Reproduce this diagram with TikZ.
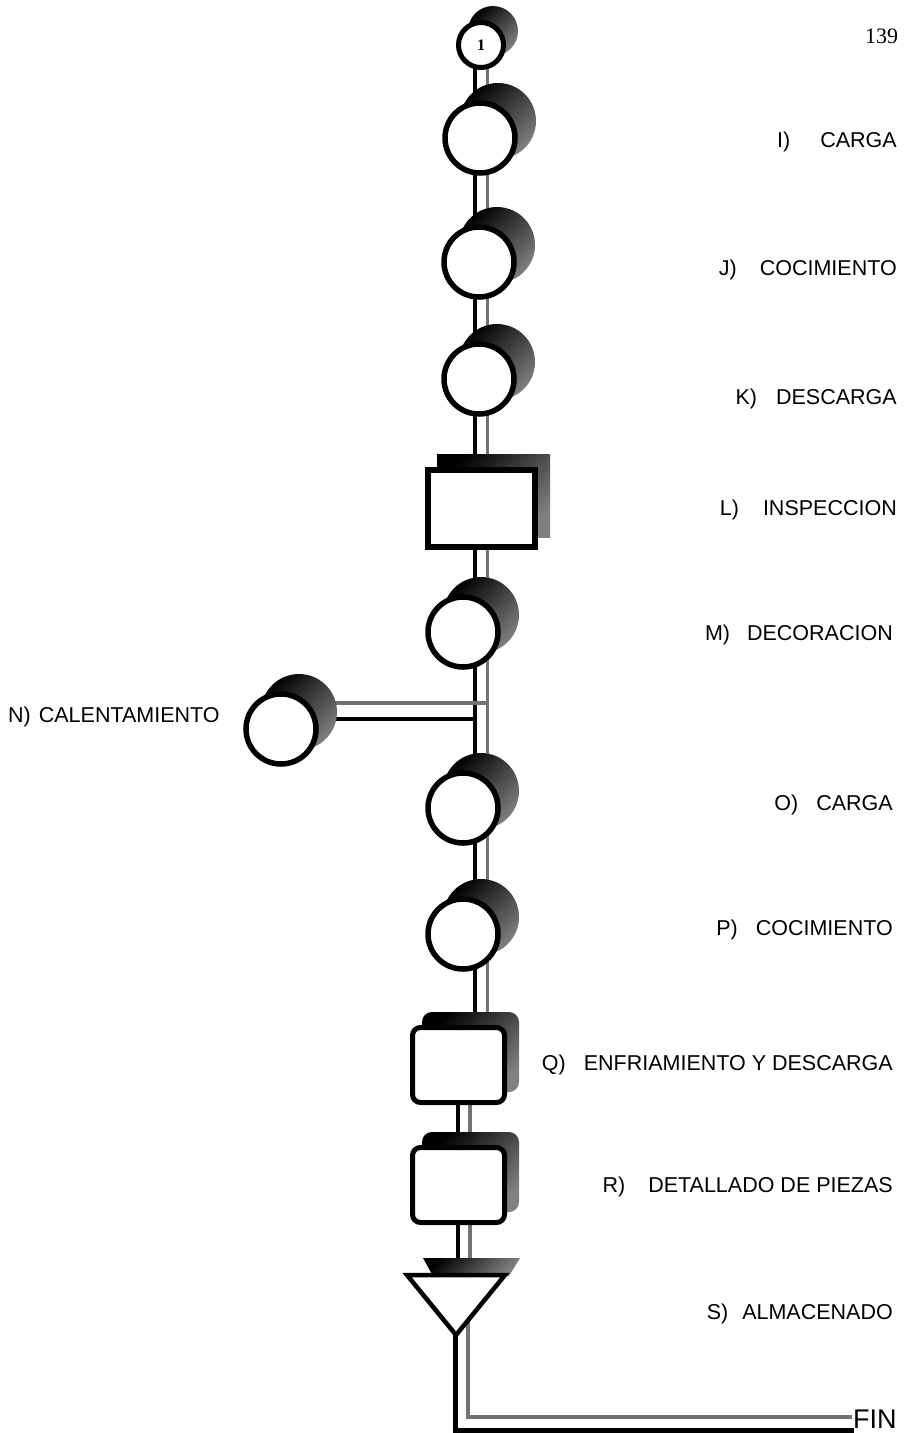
\documentclass[tikz,border=0pt]{standalone}
\usepackage{fontspec}
\setmainfont{Liberation Sans}
\newfontfamily\numfont{Liberation Serif}
\usetikzlibrary{calc}
\pgfdeclarelayer{pipes}
\pgfdeclarelayer{shadows}
\pgfsetlayers{pipes,shadows,main}
\begin{document}
\begin{tikzpicture}[x=1pt,y=-1pt,
  proc/.style={circle,draw,fill=white,line width=5.5pt,inner sep=0pt,minimum size=70pt},
  startc/.style={circle,draw,fill=white,line width=5pt,inner sep=0pt,minimum size=45pt,
    font=\numfont\bfseries\fontsize{16}{16}\selectfont},
  inspbox/.style={rectangle,draw,fill=white,line width=6pt,inner sep=0pt,
    minimum width=107pt,minimum height=77pt},
  opbox/.style={rectangle,rounded corners=8pt,draw,fill=white,line width=5pt,inner sep=0pt,
    minimum width=92pt,minimum height=75pt},
  store/.style={draw,fill=white,line width=4.5pt,line join=miter},
  shadowshade/.style={top color=black,bottom color=black!50,shading angle=45},
  pipek/.style={line width=4pt,black},
  pipeg/.style={line width=3.5pt,black!55},
  lbl/.style={anchor=base east,inner sep=0pt,font=\fontsize{21.5}{25}\selectfont},
]
\useasboundingbox (0,0) rectangle (906,1433);

% process symbols
\node[startc] (n1) at (481,45) {1};
\node[proc] (nI) at (480,138) {};
\node[proc] (nJ) at (479,262) {};
\node[proc] (nK) at (479,379) {};
\node[inspbox] (nL) at (481.5,508.5) {};
\node[proc] (nM) at (463,632) {};
\node[proc] (nN) at (281,729) {};
\node[proc] (nO) at (463,808) {};
\node[proc] (nP) at (463,934) {};
\node[opbox] (nQ) at (458.5,1065) {};
\node[opbox] (nR) at (458.5,1185) {};

% storage triangle
\coordinate (stop) at (456,1275);
\coordinate (sapex) at (456,1335);
\draw[store] ($(stop)+(-49,0)$) -- ($(stop)+(49,0)$) -- (sapex) -- cycle;

% auxiliary points of the flow line
\coordinate (mend) at (481,1020);
\coordinate (nj) at (481,711);

% labels
\node[anchor=base west,inner sep=0pt,font=\numfont\fontsize{22}{22}\selectfont] (pg) at (865,43) {139};
\node[lbl] (tI) at (897,147) {I)\hspace{30pt}CARGA};
\node[lbl] (tJ) at (897,275) {J)\hspace{23pt}COCIMIENTO};
\node[lbl] (tK) at (897,404) {K)\hspace{19pt}DESCARGA};
\node[lbl] (tL) at (897,515) {L)\hspace{24pt}INSPECCION};
\node[lbl] (tM) at (893,640) {M)\hspace{17pt}DECORACION};
\node[lbl,anchor=base west] (tN) at (8,722) {N)\hspace{8pt}CALENTAMIENTO};
\node[lbl] (tO) at (893,810) {O)\hspace{18pt}CARGA};
\node[lbl] (tP) at (893,935) {P)\hspace{18pt}COCIMIENTO};
\node[lbl] (tQ) at (893,1070) {Q)\hspace{18pt}ENFRIAMIENTO Y DESCARGA};
\node[lbl] (tR) at (893,1192) {R)\hspace{23pt}DETALLADO DE PIEZAS};
\node[lbl] (tS) at (893,1319) {S)\hspace{14pt}ALMACENADO};
\node[anchor=base west,inner sep=0pt,font=\fontsize{27}{27}\selectfont] (fin) at (853,1428) {FIN};

% drop shadows
\begin{pgfonlayer}{shadows}
  \shade[shadowshade] ($(n1)+(12,-14)$) circle[radius=25pt];
  \foreach \n in {nI,nJ,nK,nM,nN,nO,nP}
    \shade[shadowshade] ($(\n)+(18,-17)$) circle[radius=38pt];
  \shade[shadowshade] ($(nL.north west)+(12,-13)$) rectangle ($(nL.south east)+(12,-13)$);
  \shade[shadowshade,rounded corners=10pt] ($(nQ.north west)+(12,-13)$) rectangle ($(nQ.south east)+(12,-13)$);
  \shade[shadowshade,rounded corners=10pt] ($(nR.north west)+(12,-13)$) rectangle ($(nR.south east)+(12,-13)$);
  \shade[shadowshade] ($(stop)+(-33,-17)$) -- ($(stop)+(64,-17)$) -- ($(stop)+(53,1)$) -- ($(stop)+(-23,1)$) -- cycle;
\end{pgfonlayer}

% flow lines (double pipe: dark left rail, grey right rail)
\begin{pgfonlayer}{pipes}
  \draw[pipek] ($(n1)+(-6.5,0)$) -- ($(mend)+(-6.5,0)$);
  \draw[pipeg] ($(n1)+(6.5,0)$) -- ($(mend)+(6.5,0)$);
  \draw[pipeg] ($(nN |- nj)+(0,-8)$) -- ($(nj)+(6.5,-8)$);
  \draw[pipek] ($(nN |- nj)+(0,8)$) -- ($(nj)+(-6.5,8)$);
  \draw[pipek] ($(nQ)+(-0.5,0)$) -- ($(nR)+(-0.5,0)$);
  \draw[pipeg] ($(nQ)+(11.5,0)$) -- ($(nR)+(11.5,0)$);
  \draw[pipek] ($(nR)+(-1,0)$) -- ($(stop)+(1.5,10)$);
  \draw[pipeg] ($(nR)+(11.5,0)$) -- ($(stop)+(14,10)$);
  \draw[pipek,line width=5pt] ($(sapex)+(-0.5,-6)$) |- ($(fin.base west)+(1,2.5)$);
  \draw[pipeg] ($(sapex)+(12,-20)$) |- ($(fin.base west)+(-1,-11)$);
\end{pgfonlayer}
\end{tikzpicture}
\end{document}
